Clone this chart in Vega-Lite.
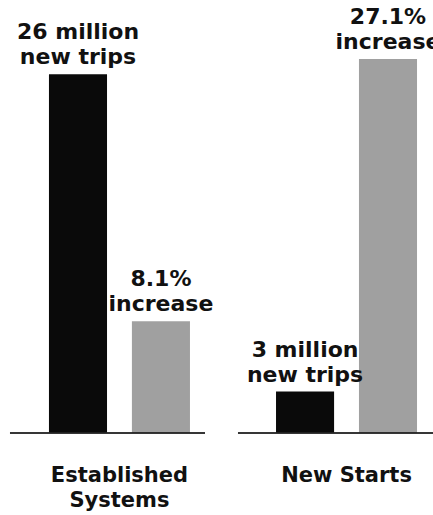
{
  "$schema": "https://vega.github.io/schema/vega-lite/v6.json",
  "width": 433,
  "height": 433,
  "autosize": "none",
  "padding": {"left": 0, "top": 0, "right": 0, "bottom": 82},
  "background": "white",
  "config": {"view": {"stroke": null}, "font": "DejaVu Sans"},
  "data": {"values": [
    {"group": "Established Systems", "measure": "trips", "value": 26, "label": "26 million\nnew trips"},
    {"group": "Established Systems", "measure": "increase", "value": 8.1, "label": "8.1%\nincrease"},
    {"group": "New Starts", "measure": "trips", "value": 3, "label": "3 million\nnew trips"},
    {"group": "New Starts", "measure": "increase", "value": 27.1, "label": "27.1%\nincrease"}
  ]},
  "layer": [
    {
      "layer": [
        {
          "mark": {"type": "bar"},
          "encoding": {
            "x": {"field": "group", "type": "nominal", "sort": ["Established Systems", "New Starts"],
              "scale": {"paddingInner": 0.379, "paddingOuter": 0.143, "align": 0.754},
              "axis": {"title": null, "orient": "bottom", "domain": false, "ticks": false, "tickSize": 0,
                "labelAngle": 0, "labelFontSize": 21, "labelFontWeight": "bold", "labelColor": "#111111",
                "labelFont": "DejaVu Sans", "labelPadding": 42, "labelBaseline": "middle", "labelLineHeight": 25,
                "labelLimit": 0,
                "labelExpr": "datum.label == 'Established Systems' ? ['Established', 'Systems'] : datum.label"}},
            "xOffset": {"field": "measure", "type": "nominal", "sort": ["trips", "increase"],
              "scale": {"paddingInner": 0.3, "paddingOuter": 0}},
            "y": {"field": "value", "type": "quantitative", "scale": {"domain": [0, 31.38], "nice": false}, "axis": null},
            "color": {"field": "measure", "type": "nominal",
              "scale": {"domain": ["trips", "increase"], "range": ["#0a0a0a", "#a0a0a0"]}, "legend": null}
          }
        },
        {
          "mark": {"type": "text", "baseline": "bottom", "align": "center", "lineBreak": "\n", "lineHeight": 25,
            "fontSize": 22, "fontWeight": "bold", "dy": -30, "color": "#111111", "font": "DejaVu Sans"},
          "encoding": {
            "x": {"field": "group", "type": "nominal", "sort": ["Established Systems", "New Starts"],
              "scale": {"paddingInner": 0.379, "paddingOuter": 0.143, "align": 0.754}},
            "xOffset": {"field": "measure", "type": "nominal", "sort": ["trips", "increase"],
              "scale": {"paddingInner": 0.3, "paddingOuter": 0}},
            "y": {"field": "value", "type": "quantitative"},
            "text": {"field": "label", "type": "nominal"}
          }
        }
      ]
    },
    {
      "mark": {"type": "tick", "orient": "horizontal", "size": 195, "thickness": 2, "color": "#222222"},
      "encoding": {
        "x": {"field": "group", "type": "nominal", "sort": ["Established Systems", "New Starts"],
          "scale": {"paddingInner": 0.1447, "paddingOuter": 0.0219, "align": 1}, "axis": null},
        "y": {"datum": 0}
      }
    }
  ],
  "resolve": {"scale": {"x": "independent"}}
}
